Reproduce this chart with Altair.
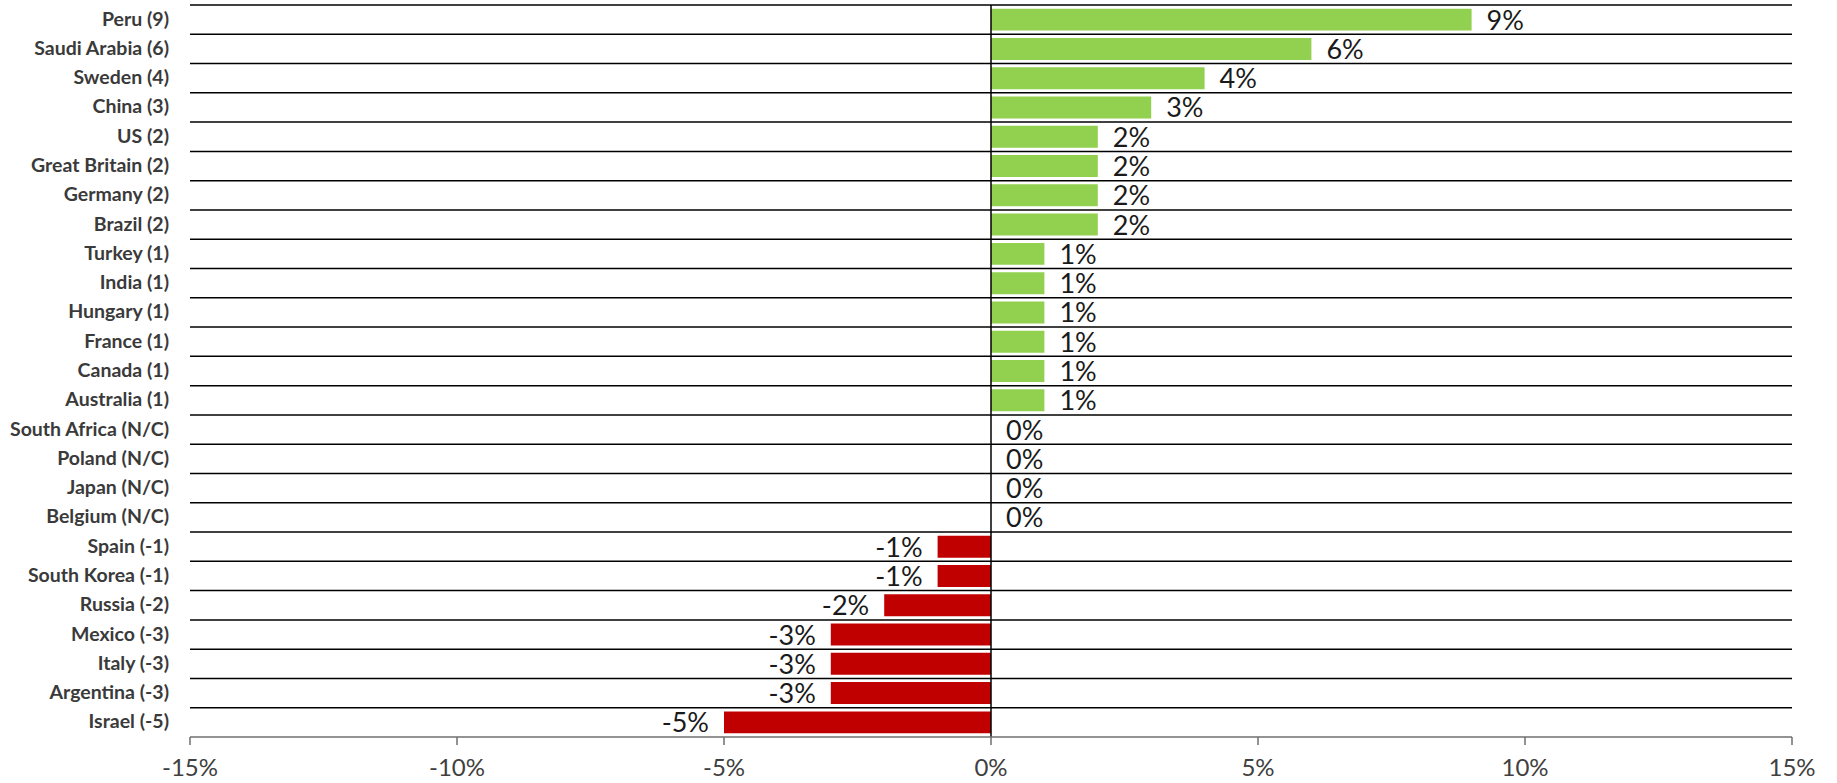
import altair as alt
import pandas as pd

countries = [
    "Peru (9)", "Saudi Arabia (6)", "Sweden (4)", "China (3)", "US (2)",
    "Great Britain (2)", "Germany (2)", "Brazil (2)", "Turkey (1)", "India (1)",
    "Hungary (1)", "France (1)", "Canada (1)", "Australia (1)",
    "South Africa (N/C)", "Poland (N/C)", "Japan (N/C)", "Belgium (N/C)",
    "Spain (-1)", "South Korea (-1)", "Russia (-2)", "Mexico (-3)",
    "Italy (-3)", "Argentina (-3)", "Israel (-5)",
]
values = [9, 6, 4, 3, 2, 2, 2, 2, 1, 1, 1, 1, 1, 1, 0, 0, 0, 0,
          -1, -1, -2, -3, -3, -3, -5]
x_ticks = [-15, -10, -5, 0, 5, 10, 15]

df = pd.DataFrame({"country": countries, "v": values})
df["label"] = [f"{v}%" for v in values]
ticks_df = pd.DataFrame({"t": x_ticks, "tlabel": [f"{t}%" for t in x_ticks]})

FONT = "Lato"
W, H = 1602, 732

y_scale = alt.Scale(domain=countries, paddingInner=0, paddingOuter=0)
x_scale = alt.Scale(domain=[-15, 15], nice=False)

y_enc = alt.Y("country:N", sort=countries, scale=y_scale, axis=None)
x_enc = alt.X("v:Q", scale=x_scale, axis=None)

base = alt.Chart(df)

# horizontal separators at the top of each category row
separators = base.mark_rule(color="#000000", strokeWidth=1.5).encode(
    y=alt.Y("country:N", sort=countries, scale=y_scale, axis=None, bandPosition=0),
    x=alt.value(0),
    x2=alt.value(W),
)

bars = base.mark_bar(height=alt.RelativeBandSize(0.75)).encode(
    y=y_enc,
    x=x_enc,
    color=alt.condition(alt.datum.v >= 0, alt.value("#92D050"), alt.value("#C00000")),
)

pos_text = base.transform_filter(alt.datum.v >= 0).mark_text(
    align="left", baseline="middle", dx=15, dy=2, font=FONT, fontSize=27, color="#1a1a1a"
).encode(y=y_enc, x=x_enc, text="label:N")

neg_text = base.transform_filter(alt.datum.v < 0).mark_text(
    align="right", baseline="middle", dx=-15, dy=2, font=FONT, fontSize=27, color="#1a1a1a"
).encode(y=y_enc, x=x_enc, text="label:N")

# category labels (left of plot)
cat_labels = base.mark_text(
    align="right", baseline="middle", font=FONT, fontSize=19.5, fontWeight="bold",
    color="#3a3a3a",
).encode(y=y_enc, x=alt.value(-21), text="country:N")

zero = base.transform_filter(alt.datum.country == countries[0]).transform_calculate(
    v="0"
).mark_rule(color="#000000", strokeWidth=1.5).encode(x=x_enc)

tbase = alt.Chart(ticks_df)

x_domain = tbase.transform_filter(alt.datum.t == 0).mark_rule(
    color="#6f6f6f", strokeWidth=1.5
).encode(x=alt.value(0), x2=alt.value(W), y=alt.value(H))

x_tick_marks = tbase.mark_rule(color="#6f6f6f", strokeWidth=1.5).encode(
    x=alt.X("t:Q", scale=x_scale, axis=None),
    y=alt.value(H),
    y2=alt.value(H + 8),
)

x_tick_labels = tbase.mark_text(
    align="center", baseline="top", font=FONT, fontSize=24, color="#404040"
).encode(
    x=alt.X("t:Q", scale=x_scale, axis=None),
    y=alt.value(H + 20),
    text="tlabel:N",
)

chart = alt.layer(
    separators, bars, pos_text, neg_text, cat_labels, zero,
    x_domain, x_tick_marks, x_tick_labels,
).properties(
    width=W,
    height=H,
    autosize=alt.AutoSizeParams(type="none"),
    padding={"left": 190, "top": 5, "right": 45, "bottom": 46},
).configure(background="white").configure_view(stroke="transparent", strokeWidth=0)

chart.save("out.html", embed_options={"renderer": "svg", "actions": False})
